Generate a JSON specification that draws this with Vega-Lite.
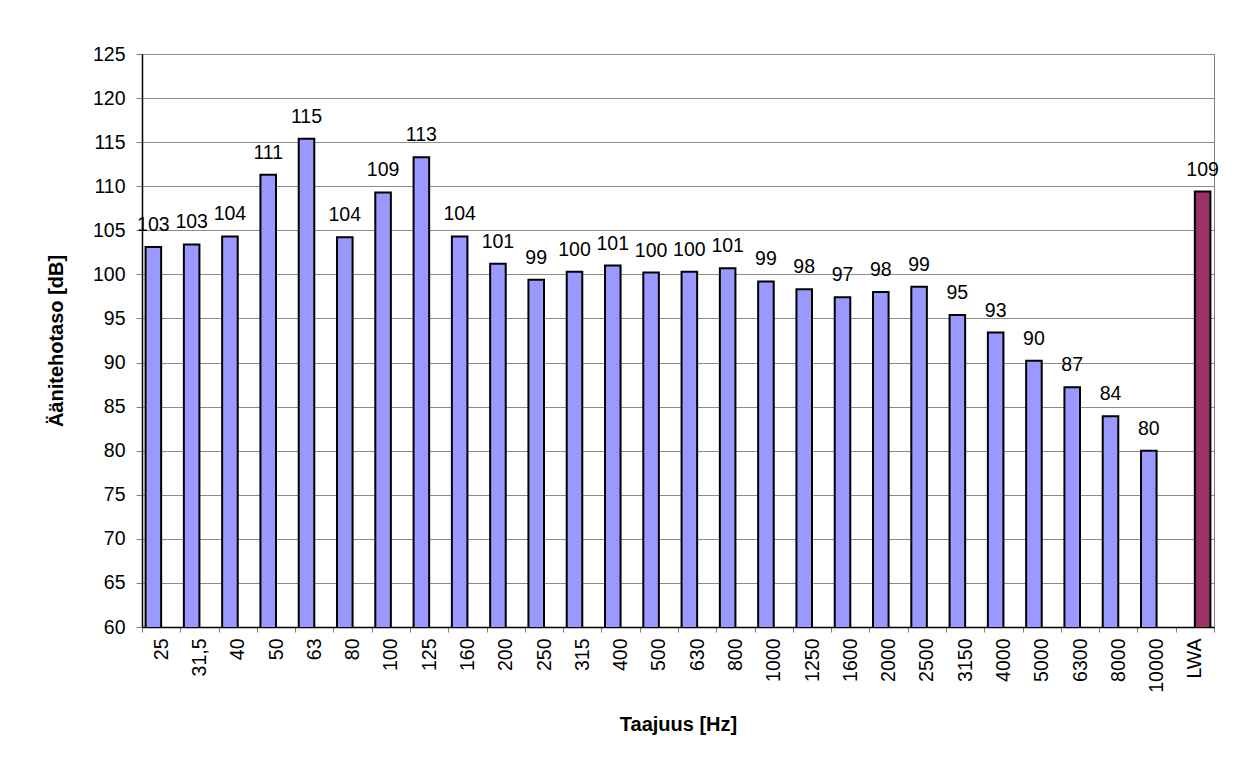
{
  "$schema": "https://vega.github.io/schema/vega-lite/v6.json",
  "width": 1072,
  "height": 573,
  "autosize": "none",
  "padding": {"left": 142, "top": 54, "right": 21, "bottom": 138},
  "background": "white",
  "config": {
    "font": "Liberation Sans",
    "view": {"stroke": "#808080", "strokeWidth": 1},
    "axis": {"labelFont": "Liberation Sans", "titleFont": "Liberation Sans", "labelColor": "black", "titleColor": "black"}
  },
  "data": {
    "values": [
      {"f": "25", "s": "dB", "v": 103.1},
      {"f": "31,5", "s": "dB", "v": 103.4},
      {"f": "40", "s": "dB", "v": 104.3},
      {"f": "50", "s": "dB", "v": 111.3},
      {"f": "63", "s": "dB", "v": 115.4},
      {"f": "80", "s": "dB", "v": 104.2},
      {"f": "100", "s": "dB", "v": 109.3},
      {"f": "125", "s": "dB", "v": 113.3},
      {"f": "160", "s": "dB", "v": 104.3},
      {"f": "200", "s": "dB", "v": 101.2},
      {"f": "250", "s": "dB", "v": 99.4},
      {"f": "315", "s": "dB", "v": 100.3},
      {"f": "400", "s": "dB", "v": 101.0},
      {"f": "500", "s": "dB", "v": 100.2},
      {"f": "630", "s": "dB", "v": 100.3},
      {"f": "800", "s": "dB", "v": 100.7},
      {"f": "1000", "s": "dB", "v": 99.2},
      {"f": "1250", "s": "dB", "v": 98.3},
      {"f": "1600", "s": "dB", "v": 97.4},
      {"f": "2000", "s": "dB", "v": 98.0},
      {"f": "2500", "s": "dB", "v": 98.6},
      {"f": "3150", "s": "dB", "v": 95.4},
      {"f": "4000", "s": "dB", "v": 93.4},
      {"f": "5000", "s": "dB", "v": 90.2},
      {"f": "6300", "s": "dB", "v": 87.2},
      {"f": "8000", "s": "dB", "v": 83.9},
      {"f": "10000", "s": "dB", "v": 80.0},
      {"f": "LWA", "s": "LWA", "v": 109.4}
    ]
  },
  "encoding": {
    "x": {
      "field": "f", "type": "nominal", "sort": null,
      "scale": {"paddingInner": 0, "paddingOuter": 0},
      "axis": {
        "title": "Taajuus [Hz]", "titleFontSize": 20, "titleFontWeight": "bold", "titlePadding": 22,
        "labelAngle": -90, "labelFontSize": 19.5, "labelPadding": 6,
        "tickBand": "extent", "tickSize": 5, "tickColor": "#808080",
        "domainColor": "black", "domainWidth": 1.5, "grid": false
      }
    },
    "xOffset": {
      "field": "s", "type": "nominal",
      "scale": {"domain": ["dB", "LWA"], "paddingInner": 0, "paddingOuter": 0.23}
    },
    "y": {
      "field": "v", "type": "quantitative",
      "scale": {"domain": [60, 125], "zero": false, "nice": false},
      "axis": {
        "title": "Äänitehotaso [dB]", "titleFontSize": 20, "titleFontWeight": "bold", "titlePadding": 26,
        "values": [60, 65, 70, 75, 80, 85, 90, 95, 100, 105, 110, 115, 120, 125],
        "labelFontSize": 19.5, "labelPadding": 11, "tickSize": 6, "tickColor": "#808080",
        "domainColor": "black", "domainWidth": 1.5,
        "grid": true, "gridColor": "#8c8c8c", "gridWidth": 1
      }
    }
  },
  "layer": [
    {
      "mark": {"type": "bar", "stroke": "black", "strokeWidth": 2, "clip": true},
      "encoding": {
        "color": {
          "field": "s", "type": "nominal",
          "scale": {"domain": ["dB", "LWA"], "range": ["#9999FF", "#993366"]},
          "legend": null
        }
      }
    },
    {
      "mark": {"type": "text", "baseline": "alphabetic", "dy": -16, "fontSize": 19.5, "font": "Liberation Sans", "color": "black"},
      "encoding": {
        "text": {"field": "v", "type": "quantitative", "format": ".0f"}
      }
    }
  ]
}
